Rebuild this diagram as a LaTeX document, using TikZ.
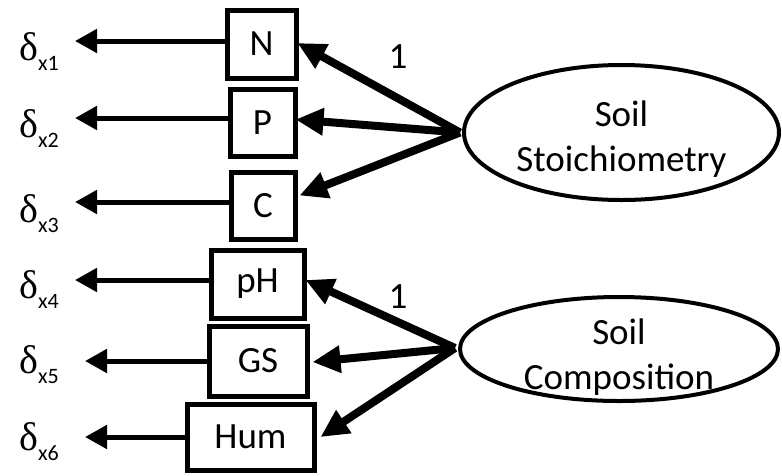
\documentclass[tikz,border=0pt]{standalone}
\usepackage{fontspec}
\setmainfont{Carlito}
\newfontfamily\greekfont{Liberation Serif}
\usetikzlibrary{arrows.meta,shapes.geometric,calc}
\newcommand{\errlab}[1]{{\greekfont\fontsize{40}{42}\selectfont δ}\raisebox{-10pt}{\fontsize{22}{24}\selectfont x#1}}
\begin{document}
\begin{tikzpicture}[x=1pt,y=-1pt,
  obs/.style={draw,line width=5pt,inner sep=0pt,font=\fontsize{37}{40}\selectfont},
  latent/.style={draw,ellipse,line width=4pt,inner sep=0pt},
  lvtext/.style={align=center,inner sep=0pt,font=\fontsize{37}{45}\selectfont},
  err/.style={-{Triangle[length=22pt,width=23pt]},line width=5pt},
  load/.style={-{Triangle[length=28pt,width=26pt]},line width=8pt},
  dlab/.style={anchor=base west,inner sep=0pt},
  one/.style={inner sep=0pt,font=\fontsize{37}{40}\selectfont}]
\useasboundingbox (0,0) rectangle (782,475);

% observed indicators
\node[obs,minimum width=69pt,minimum height=68pt] (N) at (261.5,44) {N};
\node[obs,minimum width=65pt,minimum height=67pt] (P) at (262.5,122.5) {P};
\node[obs,minimum width=64pt,minimum height=67pt] (C) at (263,205.5) {C};
\node[obs,minimum width=93pt,minimum height=68pt] (pH) at (257.5,284) {pH};
\node[obs,minimum width=98pt,minimum height=70pt] (GS) at (258,361) {GS};
\node[obs,minimum width=127pt,minimum height=66pt] (Hum) at (250.5,437) {Hum};

% latent variables
\node[latent,minimum width=315pt,minimum height=135pt] (S) at (621.5,132.5) {};
\node[lvtext] (Stxt) at ($(S)+(0,7)$) {Soil\\Stoichiometry};
\node[latent,minimum width=318pt,minimum height=104pt] (K) at (619,349) {};
\node[lvtext] (Ktxt) at ($(K)+(0,8)$) {Soil\\Composition};

% error terms
\coordinate (d1) at (75,41);
\coordinate (d2) at (75,118);
\coordinate (d3) at (75,202);
\coordinate (d4) at (75,280);
\coordinate (d5) at (85,361);
\coordinate (d6) at (85,437);
\draw[err] (N.west |- d1) -- (d1);
\draw[err] (P.west |- d2) -- (d2);
\draw[err] (C.west |- d3) -- (d3);
\draw[err] (pH.west |- d4) -- (d4);
\draw[err] (GS.west |- d5) -- (d5);
\draw[err] (Hum.west |- d6) -- (d6);

\node[dlab] (e1) at (19,60) {\errlab{1}};
\node[dlab] (e2) at (19,137) {\errlab{2}};
\node[dlab] (e3) at (19,222) {\errlab{3}};
\node[dlab] (e4) at (19,298) {\errlab{4}};
\node[dlab] (e5) at (19,373) {\errlab{5}};
\node[dlab] (e6) at (19,450) {\errlab{6}};

% factor loadings
\draw[load] ($(S.west)+(-2,0)$) -- ($(N.east)+(-1,-1)$);
\draw[load] ($(S.west)+(-2,0)$) -- ($(P.east)+(-2,-3)$);
\draw[load] ($(S.west)+(-2,0)$) -- ($(C.east)+(2,-10)$);
\draw[load] ($(K.west)+(-3,-1)$) -- ($(pH.east)+(-1,-4)$);
\draw[load] ($(K.west)+(-3,-1)$) -- ($(GS.east)+(3,1)$);
\draw[load] ($(K.west)+(-3,-1)$) -- ($(Hum.east)+(4,0)$);

\node[one] (one1) at (398,57) {1};
\node[one] (one2) at (398,297) {1};
\end{tikzpicture}
\end{document}
